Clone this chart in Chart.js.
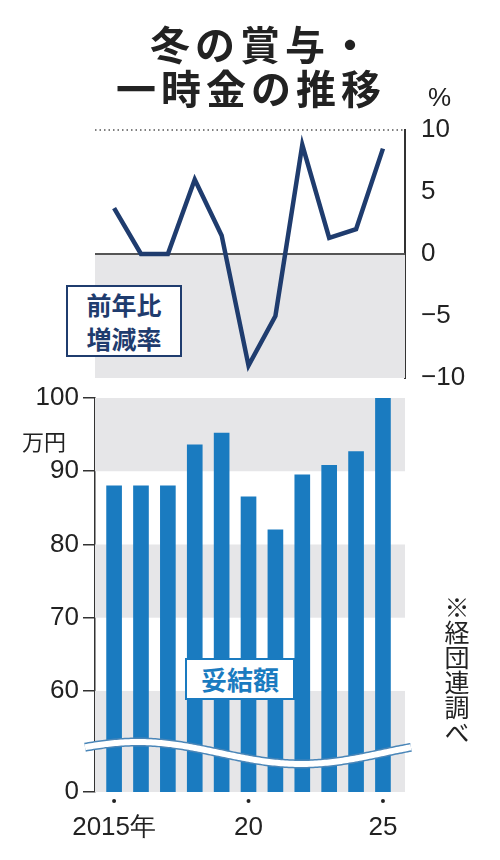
<!DOCTYPE html>
<html><head><meta charset="utf-8">
<script src="https://cdn.jsdelivr.net/npm/chart.js@4/dist/chart.umd.min.js"></script>
<style>
body{margin:0;width:500px;height:860px;background:#fff;position:relative;overflow:hidden;font-family:'Noto Sans CJK JP',sans-serif}
canvas{position:absolute;left:0;top:0}
.o{position:absolute;z-index:5}
.t{position:absolute;font-weight:bold;color:#222;line-height:46px;z-index:5}
</style></head><body>
<canvas id="c1" width="500" height="860"></canvas>
<canvas id="c2" width="500" height="860"></canvas>
<div class="t" style="left:150px;top:20px;font-size:40px;letter-spacing:5px">冬の賞与・</div>
<div class="t" style="left:116px;top:64px;font-size:40px;letter-spacing:5px">一時金の推移</div>
<div class="o" style="left:428px;top:82px;font-size:26px;color:#222;font-family:'Liberation Sans Narrow','Liberation Sans'">%</div>
<div class="o" style="left:22px;top:424px;font-size:22px;color:#222">万円</div>
<div class="o" style="left:66px;top:285px;width:116px;height:72px;border:2px solid #1f3c6e;background:#fff;color:#1f3c6e;font-weight:bold;font-size:25px;line-height:34px;text-align:center;box-sizing:border-box">前年比<br>増減率</div>
<div class="o" style="left:185px;top:658px;width:110px;height:42px;border:2px solid #1a7bc0;background:#fff;color:#1a7bc0;font-weight:bold;font-size:26px;line-height:38px;text-align:center;box-sizing:border-box">妥結額</div>
<div class="o" style="left:442px;top:595px;font-size:25px;color:#222;writing-mode:vertical-rl;line-height:30px">※経団連調べ</div>
<script>
const years=[2015,2016,2017,2018,2019,2020,2021,2022,2023,2024,2025];
const changePct=[3.7,0,0,6,1.5,-9,-5,8.8,1.3,2,8.5];
const bonus=[88,88,88,93.6,95.2,86.5,82,89.5,90.8,92.7,100.5];
const yTicks=[60,70,80,90,100];
const pctTicks=[-10,-5,0,5,10];
const xMin=-0.71,xMax=10.82,zeroPos=46.2;
const font={family:"'Liberation Sans Narrow','Liberation Sans',sans-serif",size:26};
Chart.defaults.animation=false;
const bg1={id:'bg1',beforeDatasetsDraw(c){const {ctx,chartArea:a,scales:{y}}=c;ctx.save();ctx.fillStyle='#e6e6e8';ctx.fillRect(a.left,y.getPixelForValue(0),a.right-a.left,y.getPixelForValue(-10)-y.getPixelForValue(0));
ctx.strokeStyle='#555';ctx.lineWidth=2;ctx.beginPath();ctx.moveTo(a.left,y.getPixelForValue(0));ctx.lineTo(a.right,y.getPixelForValue(0));ctx.stroke();
ctx.setLineDash([1.5,3]);ctx.lineWidth=1.5;ctx.beginPath();ctx.moveTo(a.left,y.getPixelForValue(10));ctx.lineTo(a.right,y.getPixelForValue(10));ctx.stroke();ctx.restore();}};
new Chart(document.getElementById('c1'),{type:'line',
data:{datasets:[{data:years.map((yr,i)=>({x:i,y:changePct[i]})),borderColor:'#1f3c6e',borderWidth:4.5,pointRadius:0,tension:0}]},
options:{responsive:false,layout:{padding:{left:95,top:130,bottom:482,right:0}},plugins:{legend:{display:false},tooltip:{enabled:false}},
scales:{x:{type:'linear',min:xMin,max:xMax,display:false},
y:{position:'right',min:-10,max:10,afterFit(s){s.width=95},afterBuildTicks(s){s.ticks=pctTicks.map(v=>({value:v}))},
ticks:{font,color:'#222',padding:8,callback:v=>v<0?'−'+Math.abs(v):v},grid:{display:false},border:{display:true,color:'#333',width:2}}}},plugins:[bg1]});
const bg2={id:'bg2',beforeDatasetsDraw(c){const {ctx,chartArea:a,scales:{y}}=c;ctx.save();ctx.fillStyle='#e6e6e8';
[[90,100],[70,80],[zeroPos,60]].forEach(([lo,hi])=>{const t=y.getPixelForValue(hi),b=y.getPixelForValue(lo);ctx.fillRect(a.left,t,a.right-a.left,b-t);});ctx.restore();},
afterDatasetsDraw(c){const {ctx}=c;ctx.save();const path=()=>{ctx.beginPath();for(let x=85;x<=412;x+=2){const yy=753-11*Math.sin((x-85)/310*2*Math.PI*0.95+0.55);x==85?ctx.moveTo(x,yy):ctx.lineTo(x,yy);}};
path();ctx.strokeStyle='#4a86b8';ctx.lineWidth=9;ctx.stroke();path();ctx.strokeStyle='#fff';ctx.lineWidth=6;ctx.stroke();
ctx.fillStyle='#222';[0,5,10].forEach(i=>{const px=c.scales.x.getPixelForValue(i);ctx.beginPath();ctx.arc(px,801,2,0,7);ctx.fill();});ctx.restore();}};
new Chart(document.getElementById('c2'),{type:'bar',
data:{datasets:[{data:years.map((yr,i)=>({x:i,y:bonus[i]})),backgroundColor:'#1a7bc0',barThickness:15,maxBarThickness:15}]},
options:{responsive:false,layout:{padding:{left:0,top:398,bottom:0,right:95}},plugins:{legend:{display:false},tooltip:{enabled:false}},
scales:{x:{type:'linear',offset:false,bounds:'ticks',min:xMin,max:xMax,afterFit(s){s.height=68},afterBuildTicks(s){s.ticks=[0,5,10].map(v=>({value:v}))},
ticks:{font,color:'#222',padding:12,maxRotation:0,autoSkip:false,callback:v=>v==0?'2015年':String(years[v]).slice(2)},grid:{display:false},border:{display:false}},
y:{min:zeroPos,max:100,afterFit(s){s.width=95},afterBuildTicks(s){s.ticks=[zeroPos,...yTicks].map(v=>({value:v}))},
ticks:{font,color:'#222',padding:4,callback:v=>v==zeroPos?'0':v},grid:{display:true,drawOnChartArea:false,tickLength:12,color:'#333',lineWidth:1.5},border:{display:true,color:'#333',width:1.5}}}},plugins:[bg2]});
</script></body></html>
